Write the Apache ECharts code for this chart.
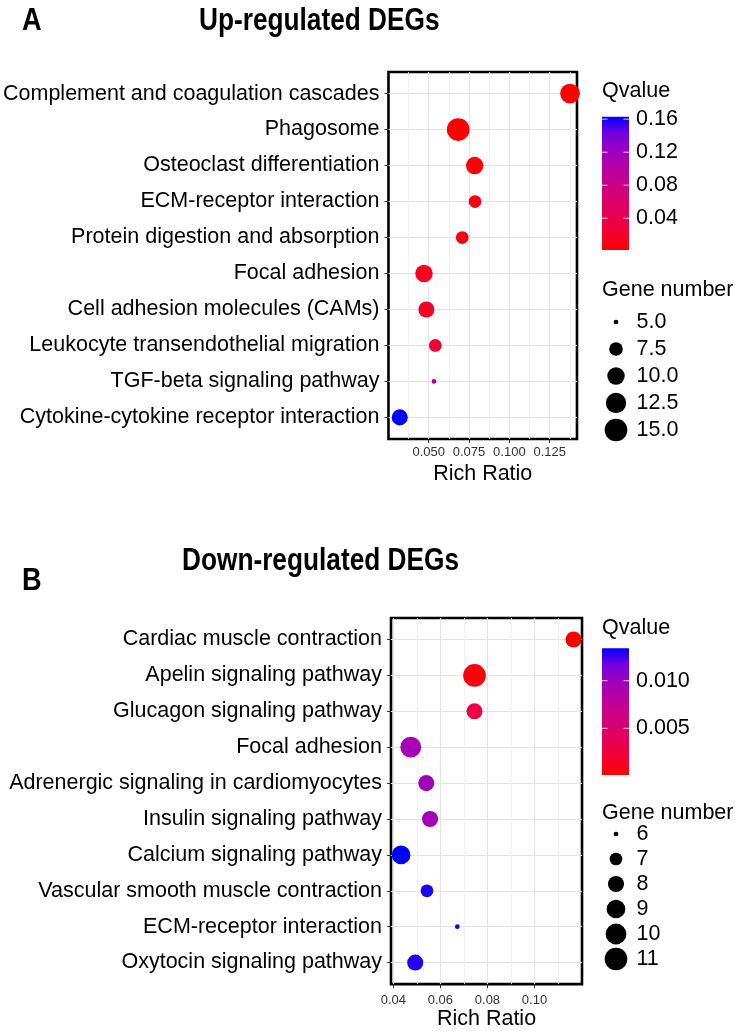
<!DOCTYPE html>
<html>
<head>
<meta charset="utf-8">
<script src="https://cdn.jsdelivr.net/npm/echarts@6/dist/echarts.min.js"></script>
<style>
html, body { margin: 0; padding: 0; background: #fff; }
#ech { width: 735px; height: 1031px; }
</style>
</head>
<body>
<div id="ech"></div>
<script>
// panel A - up-regulated
var upCats = ['Complement and coagulation cascades', 'Phagosome', 'Osteoclast differentiation',
	'ECM-receptor interaction', 'Protein digestion and absorption', 'Focal adhesion',
	'Cell adhesion molecules (CAMs)', 'Leukocyte transendothelial migration',
	'TGF-beta signaling pathway', 'Cytokine-cytokine receptor interaction'];
var upRatio = [0.1376, 0.0683, 0.0785, 0.0787, 0.0708, 0.0471, 0.0486, 0.0541, 0.0533, 0.0321];
var upGenes = [12, 15, 10, 7, 7, 10, 9, 7, 5, 9];
var upQ = [0.0016, 0.0024, 0.0048, 0.0065, 0.0097, 0.013, 0.018, 0.026, 0.111, 0.163];
var upXTicks = [0.050, 0.075, 0.100, 0.125];
var upXMinor = [0.0375, 0.0625, 0.0875, 0.1125, 0.1375];
var upQTicks = [0.04, 0.08, 0.12, 0.16];
var upSizeBreaks = [5, 7.5, 10, 12.5, 15];

// panel B - down-regulated
var downCats = ['Cardiac muscle contraction', 'Apelin signaling pathway', 'Glucagon signaling pathway',
	'Focal adhesion', 'Adrenergic signaling in cardiomyocytes', 'Insulin signaling pathway',
	'Calcium signaling pathway', 'Vascular smooth muscle contraction',
	'ECM-receptor interaction', 'Oxytocin signaling pathway'];
var downRatio = [0.1166, 0.0745, 0.0745, 0.0474, 0.0540, 0.0556, 0.0433, 0.0543, 0.0672, 0.0493];
var downGenes = [8, 11, 8, 10, 8, 8, 9, 7, 6, 8];
var downQ = [0.0001, 0.0005, 0.0028, 0.0093, 0.0097, 0.0094, 0.0134, 0.0130, 0.0131, 0.0129];
var downXTicks = [0.04, 0.06, 0.08, 0.10];
var downXMinor = [0.05, 0.07, 0.09, 0.11];
var downQTicks = [0.005, 0.010];
var downSizeBreaks = [6, 7, 8, 9, 10, 11];

// red -> blue, roughly like ggplot's Lab gradient
var qColors = ['#FF0000', '#F40031', '#E8004F', '#DA006C', '#CA0089', '#B500A5', '#9A00C3', '#7300E0', '#0000FF'];
var FONT = 'Liberation Sans, Arial, sans-serif';
var TXT = 21.5;

function sizer(genes) {
	var lo = Math.min.apply(null, genes), hi = Math.max.apply(null, genes);
	return function (n) {
		return 4.7 + 18 * Math.sqrt(Math.max(0, n - lo) / (hi - lo));
	};
}

var panels = [
	{
		cats: upCats, ratio: upRatio, genes: upGenes, q: upQ,
		xMin: 0.0251, xMax: 0.1419, xTicks: upXTicks, xMinor: upXMinor, xDec: 3,
		grid: { left: 386, top: 72, width: 191, height: 367 }, labelMargin: 7, nameGap: 24,
		qTicks: upQTicks, qDec: 2, sizeBreaks: upSizeBreaks, sizeDec: 1,
		leg: { qTitle: 91, barTop: 116.7, barBottom: 250, geneTitle: 290, firstDot: 322, step: 27 },
		letter: 'A', letterY: 21.5, title: 'Up-regulated DEGs', titleX: 199, titleY: 21.5
	},
	{
		cats: downCats, ratio: downRatio, genes: downGenes, q: downQ,
		xMin: 0.039, xMax: 0.1202, xTicks: downXTicks, xMinor: downXMinor, xDec: 2,
		grid: { left: 391, top: 618, width: 191, height: 370 }, labelMargin: 10, nameGap: 23,
		qTicks: downQTicks, qDec: 3, sizeBreaks: downSizeBreaks, sizeDec: 0,
		leg: { qTitle: 628, barTop: 648.3, barBottom: 775, geneTitle: 813, firstDot: 834, step: 25 },
		letter: 'B', letterY: 581, title: 'Down-regulated DEGs', titleX: 182, titleY: 561.5
	}
];

var grids = [], xAxes = [], yAxes = [], series = [], visualMaps = [], graphics = [];

panels.forEach(function (p, i) {
	var size = sizer(p.genes);
	var idx = p.cats.map(function (c, k) { return k; });
	var qMin = Math.min.apply(null, p.q), qMax = Math.max.apply(null, p.q);

	grids.push({
		left: p.grid.left, top: p.grid.top, width: p.grid.width, height: p.grid.height,
		show: true, borderColor: '#000', borderWidth: 2.6, backgroundColor: '#fff'
	});

	xAxes.push({
		type: 'value', gridIndex: i, min: p.xMin, max: p.xMax, position: 'bottom',
		axisLine: { show: false, onZero: false },
		axisTick: { show: true, length: 4, customValues: p.xTicks, lineStyle: { color: '#333' } },
		axisLabel: {
			customValues: p.xTicks, margin: p.labelMargin, fontSize: 13, color: '#333', fontFamily: FONT,
			formatter: function (v) { return v.toFixed(p.xDec); }
		},
		splitLine: { show: true, lineStyle: { color: '#E4E4E4', width: 1.2 } },
		name: 'Rich Ratio', nameLocation: 'middle', nameGap: p.nameGap,
		nameTextStyle: { fontSize: TXT, color: '#000', fontFamily: FONT }
	});
	// minor grid lines
	xAxes.push({
		type: 'value', gridIndex: i, min: p.xMin, max: p.xMax, position: 'top',
		axisLine: { show: false, onZero: false },
		axisTick: { show: false, customValues: p.xMinor },
		axisLabel: { show: false, customValues: p.xMinor },
		splitLine: { show: true, lineStyle: { color: '#EFEFEF', width: 0.8 } }
	});

	yAxes.push({
		type: 'value', gridIndex: i, min: -0.6, max: p.cats.length - 1 + 0.6, inverse: true,
		axisLine: { show: false, onZero: false },
		axisTick: { show: true, length: 4, customValues: idx, lineStyle: { color: '#333' } },
		axisLabel: {
			customValues: idx, margin: 9, fontSize: TXT, color: '#000', fontFamily: FONT,
			formatter: function (v) { return p.cats[Math.round(v)]; }
		},
		splitLine: { show: true, lineStyle: { color: '#E4E4E4', width: 1.2 } }
	});

	series.push({
		type: 'scatter', xAxisIndex: i * 2, yAxisIndex: i, z: 5,
		data: p.cats.map(function (c, k) { return [p.ratio[k], k, p.genes[k], p.q[k]]; }),
		symbolSize: function (val) { return size(val[2]); },
		itemStyle: { opacity: 1 },
		emphasis: { disabled: true }
	});

	visualMaps.push({
		type: 'continuous', show: false, seriesIndex: i, dimension: 3,
		min: qMin, max: qMax, inRange: { color: qColors }
	});

	// titles
	graphics.push({
		type: 'text', x: 22, y: p.letterY, scaleX: 0.85,
		style: { text: p.letter, font: 'bold 32px ' + FONT, fill: '#000', textAlign: 'left', textVerticalAlign: 'middle' }
	});
	graphics.push({
		type: 'text', x: p.titleX, y: p.titleY, scaleX: 0.82,
		style: { text: p.title, font: 'bold 32px ' + FONT, fill: '#000', textAlign: 'left', textVerticalAlign: 'middle' }
	});

	// colour bar legend
	var L = p.leg, bx = 602, bw = 27, bh = L.barBottom - L.barTop;
	graphics.push({
		type: 'text', x: bx, y: L.qTitle,
		style: { text: 'Qvalue', font: TXT + 'px ' + FONT, fill: '#000', textAlign: 'left', textVerticalAlign: 'middle' }
	});
	var stops = qColors.slice().reverse().map(function (c, k) {
		return { offset: k / (qColors.length - 1), color: c };
	});
	graphics.push({
		type: 'rect', shape: { x: bx, y: L.barTop, width: bw, height: bh },
		style: { fill: new echarts.graphic.LinearGradient(0, 0, 0, 1, stops) }
	});
	p.qTicks.forEach(function (t) {
		var ty = L.barTop + (qMax - t) / (qMax - qMin) * bh;
		graphics.push({ type: 'line', shape: { x1: bx, y1: ty, x2: bx + 5.5, y2: ty }, style: { stroke: '#fff', lineWidth: 0.8 } });
		graphics.push({ type: 'line', shape: { x1: bx + bw - 5.5, y1: ty, x2: bx + bw, y2: ty }, style: { stroke: '#fff', lineWidth: 0.8 } });
		graphics.push({
			type: 'text', x: 636, y: ty,
			style: { text: t.toFixed(p.qDec), font: TXT + 'px ' + FONT, fill: '#000', textAlign: 'left', textVerticalAlign: 'middle' }
		});
	});

	// gene number legend
	graphics.push({
		type: 'text', x: bx, y: L.geneTitle,
		style: { text: 'Gene number', font: TXT + 'px ' + FONT, fill: '#000', textAlign: 'left', textVerticalAlign: 'middle' }
	});
	p.sizeBreaks.forEach(function (b, k) {
		var cy = L.firstDot + k * L.step;
		graphics.push({ type: 'circle', shape: { cx: 616, cy: cy, r: size(b) / 2 }, style: { fill: '#000' } });
		graphics.push({
			type: 'text', x: 636.5, y: cy,
			style: { text: b.toFixed(p.sizeDec), font: TXT + 'px ' + FONT, fill: '#000', textAlign: 'left', textVerticalAlign: 'middle' }
		});
	});
});

var myChart = echarts.init(document.getElementById('ech'));
myChart.setOption({
	backgroundColor: '#fff',
	animation: false,
	grid: grids,
	xAxis: xAxes,
	yAxis: yAxes,
	visualMap: visualMaps,
	series: series,
	graphic: { elements: graphics }
});
</script>
</body>
</html>
